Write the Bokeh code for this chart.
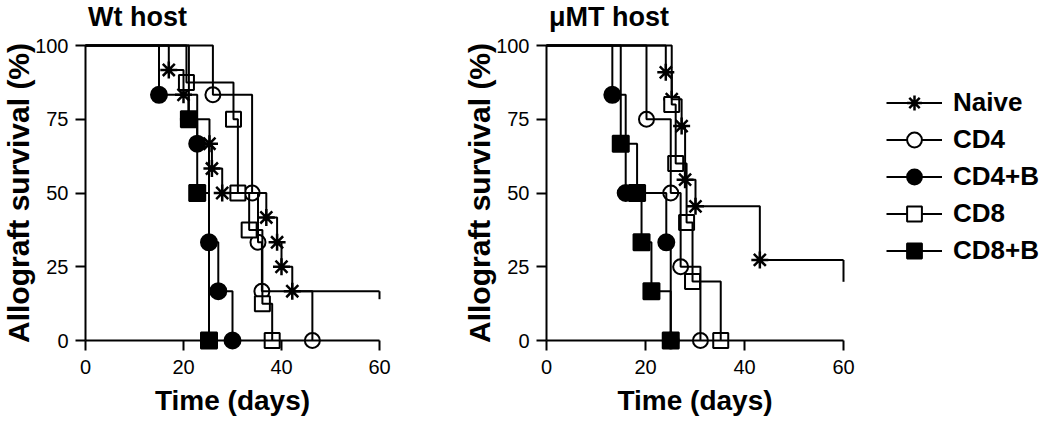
from bokeh.plotting import figure
from bokeh.models import Range1d, LinearAxis, FixedTicker, Label, Legend, LegendItem
from bokeh.layouts import row
from bokeh.embed import file_html
from bokeh.resources import INLINE

# ---------------- data ----------------
GROUPS = ["Naive", "CD4", "CD4+B", "CD8", "CD8+B"]
X_TICKS = [0, 20, 40, 60]
Y_TICKS = [0, 25, 50, 75, 100]
FOLLOW_UP_END = 60
START_SURVIVAL = 100

# Wt host: day of each rejection event and survival (%) after it
wt_naive_days = [17, 20, 21, 25.3, 25.8, 27.9, 36.9, 39.1, 40, 42.2]
wt_naive_surv = [91.7, 83.3, 75, 66.7, 58.3, 50, 41.7, 33.3, 25, 16.7]
wt_cd4_days = [26, 34, 35.2, 36, 46.3]
wt_cd4_surv = [83.3, 50, 33.3, 16.7, 0]
wt_cd4b_days = [15, 22.8, 25.2, 27.1, 30]
wt_cd4b_surv = [83.3, 66.7, 33.3, 16.7, 0]
wt_cd8_days = [20.6, 30.2, 31.1, 33.4, 36.1, 38.1]
wt_cd8_surv = [87.5, 75, 50, 37.5, 12.5, 0]
wt_cd8b_days = [21.1, 22.8, 25.2]
wt_cd8b_surv = [75, 50, 0]

# muMT host
mu_naive_days = [24.1, 25.3, 27.3, 28.0, 30.1, 43.1]
mu_naive_surv = [90.9, 81.8, 72.7, 54.5, 45.5, 27.3]
mu_cd4_days = [20.2, 25.1, 27.1, 31.1]
mu_cd4_surv = [75, 50, 25, 0]
mu_cd4b_days = [13.3, 16.0, 24.2, 25.1]
mu_cd4b_surv = [83.3, 50, 33.3, 0]
mu_cd8_days = [25.3, 26.1, 28.3, 29.5, 35.2]
mu_cd8_surv = [80, 60, 40, 20, 0]
mu_cd8b_days = [15.0, 18.3, 19.2, 21.2, 25.1]
mu_cd8b_surv = [66.7, 50, 33.3, 16.7, 0]

WT = {
    "Naive": (wt_naive_days, wt_naive_surv),
    "CD4": (wt_cd4_days, wt_cd4_surv),
    "CD4+B": (wt_cd4b_days, wt_cd4b_surv),
    "CD8": (wt_cd8_days, wt_cd8_surv),
    "CD8+B": (wt_cd8b_days, wt_cd8b_surv),
}
MU = {
    "Naive": (mu_naive_days, mu_naive_surv),
    "CD4": (mu_cd4_days, mu_cd4_surv),
    "CD4+B": (mu_cd4b_days, mu_cd4b_surv),
    "CD8": (mu_cd8_days, mu_cd8_surv),
    "CD8+B": (mu_cd8b_days, mu_cd8b_surv),
}

# ---------------- layout / styles ----------------
FONT = "Liberation Sans"
TOTAL_W = 1048
H = 422
SPLIT = 440                 # width of left figure (px)
Y100_PX, Y0_PX = 45, 340    # pixel rows of 100 % and 0 %
MARKERS = {
    "Naive": dict(marker="asterisk", size=17, fill_color="black", line_width=2.5),
    "CD4": dict(marker="circle", size=15, fill_color="white", line_width=2),
    "CD4+B": dict(marker="circle", size=16, fill_color="black", line_width=2),
    "CD8": dict(marker="square", size=15, fill_color="white", line_width=2),
    "CD8+B": dict(marker="square", size=16, fill_color="black", line_width=2),
}


def style_axis(ax, label_standoff, axis_label_standoff, label_size):
    ax.axis_line_width = 2
    ax.axis_line_color = "black"
    ax.major_tick_line_width = 2
    ax.major_tick_line_color = "black"
    ax.major_tick_out = 10
    ax.major_tick_in = 0
    ax.minor_tick_out = 0
    ax.minor_tick_in = 0
    ax.major_label_text_font = FONT
    ax.major_label_text_font_size = "20px"
    ax.major_label_text_color = "black"
    ax.major_label_standoff = label_standoff
    ax.axis_label_text_font = FONT
    ax.axis_label_text_font_style = "bold"
    ax.axis_label_text_font_size = label_size
    ax.axis_label_text_color = "black"
    ax.axis_label_standoff = axis_label_standoff


def make_panel(title, data, fig_left, fig_w, x0_px, x60_px, tick_len, legend_loc=None):
    kx = (x60_px - x0_px) / 60.0
    ky = (Y0_PX - Y100_PX) / 100.0
    xr = Range1d(-(x0_px - fig_left) / kx, (fig_left + fig_w - x0_px) / kx)
    yr = Range1d(-(H - Y0_PX) / ky, 100 + Y100_PX / ky)
    p = figure(frame_width=fig_w, frame_height=H, x_range=xr, y_range=yr,
               x_axis_type=None, y_axis_type=None, title=None,
               toolbar_location=None, output_backend="svg",
               min_border=0, outline_line_color=None,
               background_fill_color="white", border_fill_color="white")

    xaxis = LinearAxis(ticker=FixedTicker(ticks=X_TICKS, minor_ticks=[]),
                       fixed_location=0, bounds=(X_TICKS[0], X_TICKS[-1]),
                       axis_label="Time (days)")
    style_axis(xaxis, 9, 8, "28px")
    p.add_layout(xaxis, "below")

    yaxis = LinearAxis(ticker=FixedTicker(ticks=Y_TICKS, minor_ticks=[]),
                       fixed_location=0, bounds=(Y_TICKS[0], Y_TICKS[-1]),
                       axis_label="Allograft survival (%)")
    style_axis(yaxis, 7, -3, "30px")
    p.add_layout(yaxis, "left")

    items = []
    scat = {}
    for g in GROUPS:
        days, surv = data[g]
        scat[g] = p.scatter(days, surv, line_color="black", **MARKERS[g])
    for g in GROUPS:
        days, surv = data[g]
        xs = [0] + list(days)
        ys = [START_SURVIVAL] + list(surv)
        censored = surv[-1] > 0
        if censored:
            xs.append(FOLLOW_UP_END)
            ys.append(surv[-1])
        st = p.step(xs, ys, mode="after", line_color="black", line_width=2)
        if censored:
            p.segment(x0=[FOLLOW_UP_END], y0=[surv[-1]], x1=[FOLLOW_UP_END],
                      y1=[surv[-1] - tick_len], line_color="black", line_width=2)
        items.append(LegendItem(label=g, renderers=[st, scat[g]]))

    p.add_layout(Label(x=2.5 / kx, y=100 + (Y100_PX - 16) / ky,
                       text=title, text_font=FONT,
                       text_font_style="bold", text_font_size="27px",
                       text_baseline="middle", text_align="left",
                       text_color="black"))

    if legend_loc is not None:
        leg = Legend(items=items, location=legend_loc, orientation="vertical",
                     glyph_width=56, glyph_height=37, label_height=37,
                     spacing=0, padding=6, margin=0, label_standoff=11,
                     label_text_font=FONT, label_text_font_style="bold",
                     label_text_font_size="26px", label_text_color="black",
                     border_line_color=None, background_fill_alpha=0)
        p.add_layout(leg, "center")
    return p


p1 = make_panel("Wt host", WT, 0, SPLIT, 85, 379, 2.7)
p2 = make_panel("\u03bcMT host", MU, SPLIT, TOTAL_W - SPLIT, 546, 843, 7.4,
                legend_loc=(886 - SPLIT, H - 269))

layout = row(p1, p2)
open("out.html", "w").write(file_html(layout, INLINE))
